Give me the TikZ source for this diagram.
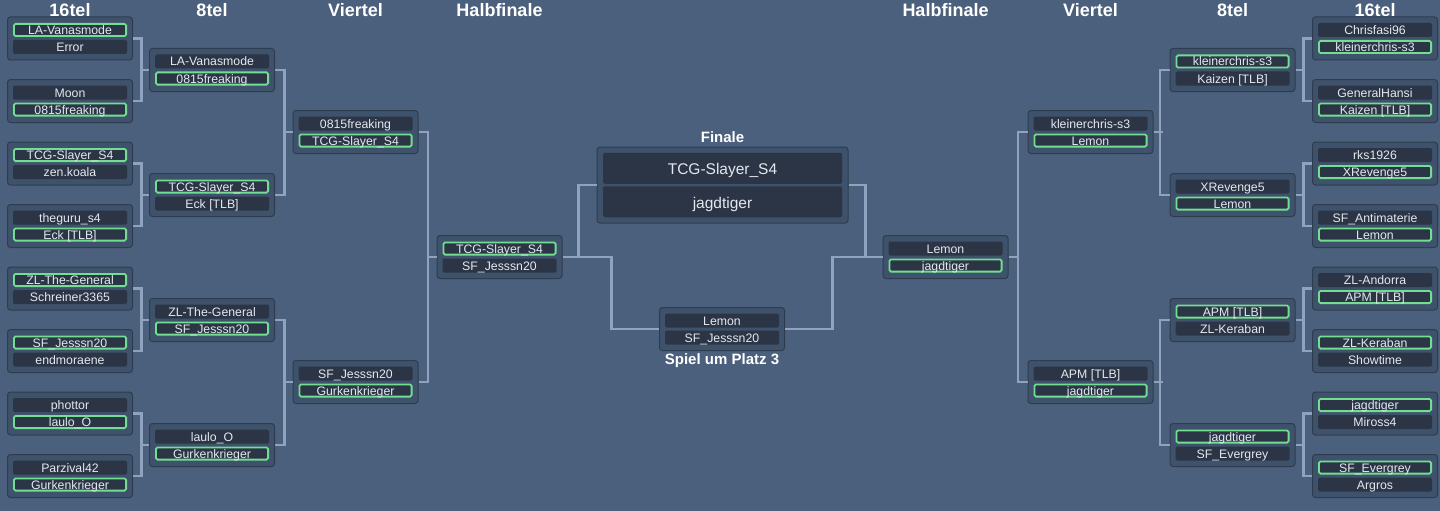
\documentclass[tikz,border=0pt]{standalone}
\usepackage{fontspec}
\setmainfont{Liberation Sans}
\definecolor{bgblue}{HTML}{4B607C}
\definecolor{boxfill}{HTML}{3F526B}
\definecolor{boxline}{HTML}{2E3C4F}
\definecolor{slotfill}{HTML}{2B3546}
\definecolor{wingreen}{HTML}{72DE92}
\definecolor{linkblue}{HTML}{8FA3BE}
\definecolor{nametext}{HTML}{E4E8EE}

\tikzset{matchbox/.style={draw=boxline,fill=boxfill,line width=1pt,rounded corners=3pt,
           minimum width=125pt,minimum height=43pt,inner sep=0pt},
         slot/.style={fill=slotfill,rounded corners=1.5pt,minimum width=114pt,minimum height=14pt,
           inner sep=0pt,text height=9pt,text depth=0pt,text=nametext,font=\fontsize{12.3}{14}\selectfont},
         win/.style={draw=wingreen,line width=1.8pt,minimum width=112.2pt,minimum height=12.2pt},
         lose/.style={},
         bigslot/.style={slot,minimum width=239pt,minimum height=31pt,text height=13pt,
           font=\fontsize{15.5}{18}\selectfont},
         link/.style={draw=linkblue,line width=2.8pt},
         roundhead/.style={text=white,font=\bfseries\fontsize{18}{20}\selectfont,anchor=base},
         boxcaption/.style={text=white,font=\bfseries\fontsize{15}{17}\selectfont,anchor=base}}

\newcommand\match[7]{%
 \node[matchbox] (#1) at (#2,#3) {};
 \node[slot,#6] (#1a) at ([yshift=8.5pt]#1.center) {#4};
 \node[slot,#7] (#1b) at ([yshift=-8.5pt]#1.center) {#5};}

\begin{document}
\begin{tikzpicture}[x=1pt,y=-1pt]
\fill[bgblue] (0,0) rectangle (1440,511);
\useasboundingbox (0,0) rectangle (1440,511);

\node[roundhead] (h16l) at (70,17) {16tel};
\node[roundhead] (h8l) at (212,17) {8tel};
\node[roundhead] (h4l) at (355.5,17) {Viertel};
\node[roundhead] (h2l) at (499.5,17) {Halbfinale};
\node[roundhead] (h2r) at (945.5,17) {Halbfinale};
\node[roundhead] (h4r) at (1090.5,17) {Viertel};
\node[roundhead] (h8r) at (1232.5,17) {8tel};
\node[roundhead] (h16r) at (1375,17) {16tel};

\match{L16-1}{70}{38.5}{LA-Vanasmode}{Error}{win}{lose}
\match{L16-2}{70}{101}{Moon}{0815freaking}{lose}{win}
\match{L16-3}{70}{163.5}{TCG-Slayer\_S4}{zen.koala}{win}{lose}
\match{L16-4}{70}{226}{theguru\_s4}{Eck [TLB]}{lose}{win}
\match{L16-5}{70}{288.5}{ZL-The-General}{Schreiner3365}{win}{lose}
\match{L16-6}{70}{351}{SF\_Jesssn20}{endmoraene}{win}{lose}
\match{L16-7}{70}{413.5}{phottor}{laulo\_O}{lose}{win}
\match{L16-8}{70}{476}{Parzival42}{Gurkenkrieger}{lose}{win}

\match{L8-1}{212}{70}{LA-Vanasmode}{0815freaking}{lose}{win}
\match{L8-2}{212}{195}{TCG-Slayer\_S4}{Eck [TLB]}{win}{lose}
\match{L8-3}{212}{320}{ZL-The-General}{SF\_Jesssn20}{lose}{win}
\match{L8-4}{212}{445}{laulo\_O}{Gurkenkrieger}{lose}{win}

\match{L4-1}{355.5}{132}{0815freaking}{TCG-Slayer\_S4}{lose}{win}
\match{L4-2}{355.5}{382}{SF\_Jesssn20}{Gurkenkrieger}{lose}{win}

\match{L2}{499.5}{257}{TCG-Slayer\_S4}{SF\_Jesssn20}{win}{lose}

\match{R16-1}{1375}{38.5}{Chrisfasi96}{kleinerchris-s3}{lose}{win}
\match{R16-2}{1375}{101}{GeneralHansi}{Kaizen [TLB]}{lose}{win}
\match{R16-3}{1375}{163.5}{rks1926}{XRevenge5}{lose}{win}
\match{R16-4}{1375}{226}{SF\_Antimaterie}{Lemon}{lose}{win}
\match{R16-5}{1375}{288.5}{ZL-Andorra}{APM [TLB]}{lose}{win}
\match{R16-6}{1375}{351}{ZL-Keraban}{Showtime}{win}{lose}
\match{R16-7}{1375}{413.5}{jagdtiger}{Miross4}{win}{lose}
\match{R16-8}{1375}{476}{SF\_Evergrey}{Argros}{win}{lose}

\match{R8-1}{1232.5}{70}{kleinerchris-s3}{Kaizen [TLB]}{win}{lose}
\match{R8-2}{1232.5}{195}{XRevenge5}{Lemon}{lose}{win}
\match{R8-3}{1232.5}{320}{APM [TLB]}{ZL-Keraban}{win}{lose}
\match{R8-4}{1232.5}{445}{jagdtiger}{SF\_Evergrey}{win}{lose}

\match{R4-1}{1090.5}{132}{kleinerchris-s3}{Lemon}{lose}{win}
\match{R4-2}{1090.5}{382}{APM [TLB]}{jagdtiger}{lose}{win}

\match{R2}{945.5}{257}{Lemon}{jagdtiger}{lose}{win}

\node[matchbox,minimum width=251pt,minimum height=76pt] (final) at (722.5,185) {};
\node[bigslot] (finala) at ([yshift=16.75pt]final.center) {TCG-Slayer\_S4};
\node[bigslot] (finalb) at ([yshift=-16.75pt]final.center) {jagdtiger};
\node[boxcaption] (finallabel) at (722.5,142) {Finale};

\match{third}{722}{329}{Lemon}{SF\_Jesssn20}{lose}{lose}
\node[boxcaption] (thirdlabel) at (722,364) {Spiel um Platz 3};

\foreach \i/\j/\p in {1/2/1,3/4/2,5/6/3,7/8/4}{
  \draw[link] (L16-\i.east) -- ++(8.5,0) |- (L16-\j.east);
  \draw[link] (L8-\p.west) -- ++(-9,0);
  \draw[link] (R16-\i.west) -- ++(-8.5,0) |- (R16-\j.west);
  \draw[link] (R8-\p.east) -- ++(9,0);}
\foreach \i/\j/\p in {1/2/1,3/4/2}{
  \draw[link] (L8-\i.east) -- ++(9.5,0) |- (L8-\j.east);
  \draw[link] (L4-\p.west) -- ++(-9,0);
  \draw[link] (R8-\i.west) -- ++(-9.5,0) |- (R8-\j.west);
  \draw[link] (R4-\p.east) -- ++(9,0);}
\draw[link] (L4-1.east) -- ++(9.5,0) |- (L4-2.east);
\draw[link] (L2.west) -- ++(-9.5,0);
\draw[link] (R4-1.west) -- ++(-9.5,0) |- (R4-2.west);
\draw[link] (R2.east) -- ++(9.5,0);

\draw[link] (L2.east) -- ++(49,0) |- (third.west);
\draw[link] (final.west) -- ++(-18,0) |- (L2.east);
\draw[link] (R2.west) -- ++(-50,0) |- (third.east);
\draw[link] (final.east) -- ++(17,0) |- (R2.west);
\end{tikzpicture}
\end{document}
